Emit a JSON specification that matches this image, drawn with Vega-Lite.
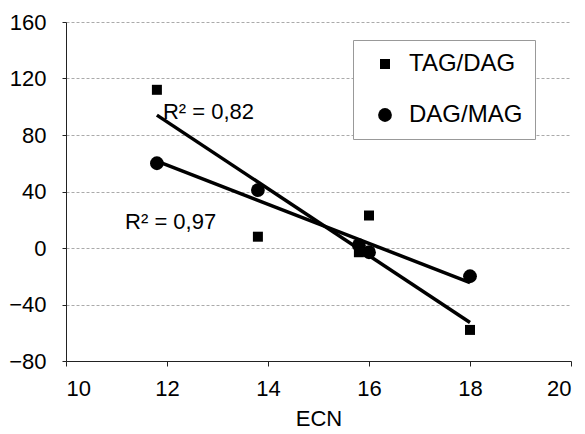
{
  "$schema": "https://vega.github.io/schema/vega-lite/v6.json",
  "width": 505,
  "height": 339,
  "autosize": {"type": "none"},
  "padding": {"left": 66, "top": 22, "right": 14, "bottom": 73},
  "background": "white",
  "config": {
    "view": {"stroke": null},
    "font": "Liberation Sans",
    "axis": {"labelFont": "Liberation Sans", "titleFont": "Liberation Sans", "labelColor": "black", "titleColor": "black", "domainColor": "#222", "tickColor": "#222", "labelFontSize": 22, "titleFontSize": 22, "titleFontWeight": "normal"}
  },
  "datasets": {
    "pts": [
      {"ECN": 11.8, "value": 112, "series": "TAG/DAG"},
      {"ECN": 13.8, "value": 8, "series": "TAG/DAG"},
      {"ECN": 15.8, "value": -3, "series": "TAG/DAG"},
      {"ECN": 16.0, "value": 23, "series": "TAG/DAG"},
      {"ECN": 18.0, "value": -58, "series": "TAG/DAG"},
      {"ECN": 11.8, "value": 60, "series": "DAG/MAG"},
      {"ECN": 13.8, "value": 41, "series": "DAG/MAG"},
      {"ECN": 15.8, "value": 2, "series": "DAG/MAG"},
      {"ECN": 16.0, "value": -3, "series": "DAG/MAG"},
      {"ECN": 18.0, "value": -20, "series": "DAG/MAG"}
    ],
    "notes": [
      {"ECN": 11.92, "value": 96, "label": "R² = 0,82"},
      {"ECN": 11.17, "value": 18.5, "label": "R² = 0,97"}
    ]
  },
  "layer": [
    {
      "data": {"name": "pts"},
      "transform": [{"regression": "value", "on": "ECN", "groupby": ["series"]}],
      "mark": {"type": "line", "color": "black", "strokeWidth": 3.5},
      "encoding": {
        "x": {"field": "ECN", "type": "quantitative", "scale": {"domain": [10, 20], "nice": false}, "axis": {"values": [10, 12, 14, 16, 18, 20], "grid": false, "tickSize": 5, "labelPadding": 12, "titleY": 57, "titleBaseline": "middle", "title": "ECN"}},
        "y": {"field": "value", "type": "quantitative", "scale": {"domain": [-80, 160], "nice": false}, "axis": {"values": [-80, -40, 0, 40, 80, 120, 160], "title": null, "tickSize": 4, "labelPadding": 16, "gridColor": "#aaa", "gridDash": [3, 2], "gridWidth": 1}},
        "detail": {"field": "series"}
      }
    },
    {
      "data": {"name": "pts"},
      "mark": {"type": "point", "filled": true, "opacity": 1, "color": "black"},
      "encoding": {
        "x": {"field": "ECN", "type": "quantitative"},
        "y": {"field": "value", "type": "quantitative"},
        "shape": {"field": "series", "type": "nominal", "scale": {"domain": ["TAG/DAG", "DAG/MAG"], "range": ["square", "circle"]}, "legend": {"title": null, "orient": "none", "legendX": 287, "legendY": 18, "padding": 12, "symbolOffset": 8, "strokeColor": "#999", "fillColor": "white", "labelFontSize": 24, "labelFont": "Liberation Sans", "labelColor": "black", "rowPadding": 27, "labelOffset": 12, "symbolFillColor": "black", "symbolStrokeColor": "black", "labelLimit": 300}},
        "size": {"field": "series", "type": "nominal", "scale": {"domain": ["TAG/DAG", "DAG/MAG"], "range": [100, 190]}, "legend": {"title": null, "orient": "none", "legendX": 287, "legendY": 18}}
      }
    },
    {
      "data": {"name": "notes"},
      "mark": {"type": "text", "align": "left", "baseline": "middle", "fontSize": 22, "font": "Liberation Sans", "color": "black"},
      "encoding": {
        "x": {"field": "ECN", "type": "quantitative"},
        "y": {"field": "value", "type": "quantitative"},
        "text": {"field": "label"}
      }
    }
  ]
}
